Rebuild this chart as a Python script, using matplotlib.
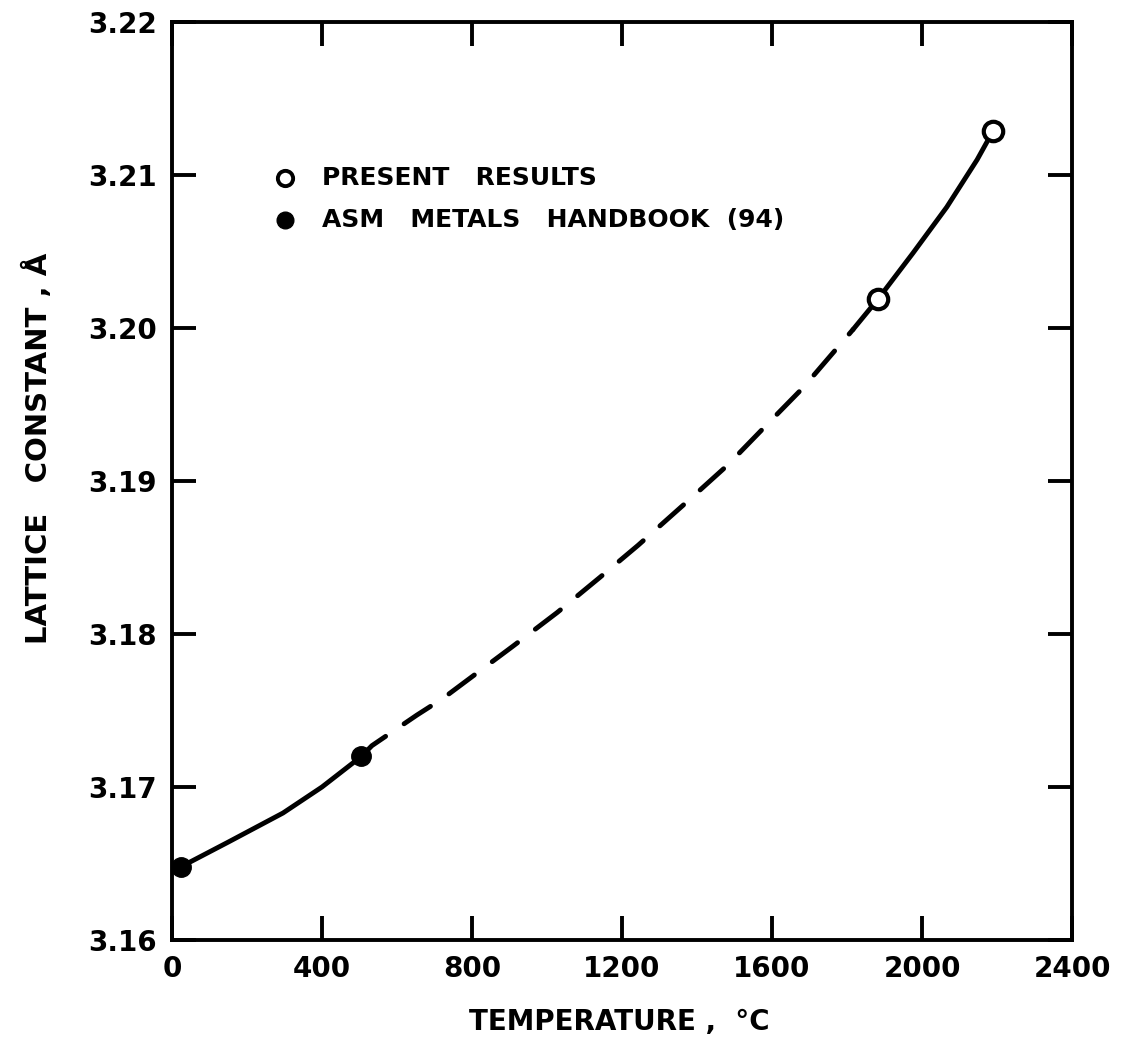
import matplotlib
matplotlib.use("Agg")
import matplotlib.pyplot as plt
from matplotlib.ticker import FixedLocator, FormatStrFormatter

# Measured lattice constants (Angstrom) versus temperature (deg C)
present_T = [1883, 2190]
present_a = [3.2019, 3.2129]
asm_T = [25, 505]
asm_a = [3.1648, 3.1720]

# Fitted curve, drawn in three pieces (solid / dashed / solid)
low_T = [25, 150, 296, 400, 505]
low_a = [3.1648, 3.1664, 3.1683, 3.1700, 3.1720]
mid_T = [505, 533, 653, 723, 816, 909, 1027, 1141, 1243, 1376, 1480, 1595, 1683, 1781, 1816]
mid_a = [3.1720, 3.1727, 3.1747, 3.1758, 3.1775, 3.1792, 3.1814, 3.1837, 3.1858, 3.1887,
         3.1910, 3.1939, 3.1961, 3.1989, 3.1999]
high_T = [1816, 1883, 1976, 2066, 2147, 2190]
high_a = [3.1999, 3.2019, 3.2049, 3.2079, 3.2110, 3.2129]

x_ticks = [0, 400, 800, 1200, 1600, 2000, 2400]
y_ticks = [3.16, 3.17, 3.18, 3.19, 3.20, 3.21, 3.22]

legend_labels = ["PRESENT   RESULTS", "ASM   METALS   HANDBOOK  (94)"]

plt.rcParams["font.family"] = ["DejaVu Sans"]
plt.rcParams["font.weight"] = "bold"

fig = plt.figure(figsize=(11.24, 10.48), dpi=100)
ax = fig.add_axes([172 / 1124, 108 / 1048, 900 / 1124, 918 / 1048])

lw = 3.5
ax.plot(low_T, low_a, color="black", lw=lw, solid_capstyle="round",
        solid_joinstyle="round", zorder=2)
ax.plot(mid_T, mid_a, color="black", lw=lw, dashes=(6.5, 4.6), dash_capstyle="round",
        zorder=2)
ax.plot(high_T, high_a, color="black", lw=lw, solid_capstyle="round",
        solid_joinstyle="round", zorder=2)

ax.plot(asm_T, asm_a, "o", color="black", ms=14, zorder=3)
ax.plot(present_T, present_a, "o", mfc="white", mec="black", mew=3.0, ms=14, zorder=3)

ax.set_xlim(0, 2400)
ax.set_ylim(3.16, 3.22)
ax.xaxis.set_major_locator(FixedLocator(x_ticks))
ax.yaxis.set_major_locator(FixedLocator(y_ticks))
ax.yaxis.set_major_formatter(FormatStrFormatter("%.2f"))
ax.tick_params(direction="in", length=17, width=2.8, top=True, right=True,
               labelsize=20, pad=11)
for lab in ax.get_xticklabels() + ax.get_yticklabels():
    lab.set_fontweight("bold")
for sp in ax.spines.values():
    sp.set_linewidth(2.8)

# Legend
ax.plot([0.1256], [0.830], "o", transform=ax.transAxes, mfc="white", mec="black",
        mew=2.8, ms=11, clip_on=False)
ax.plot([0.1256], [0.784], "o", transform=ax.transAxes, color="black", ms=12, clip_on=False)
ax.text(0.1667, 0.830, legend_labels[0], transform=ax.transAxes, va="center", ha="left",
        fontsize=18, fontweight="bold")
ax.text(0.1667, 0.784, legend_labels[1], transform=ax.transAxes, va="center", ha="left",
        fontsize=18, fontweight="bold")

# Axis titles
fig.text(619 / 1124, 1 - 1022 / 1048, "TEMPERATURE ,  °C", ha="center", va="center",
         fontsize=20, fontweight="bold")
fig.text(38 / 1124, 1 - 448 / 1048, "LATTICE   CONSTANT , Å", rotation=90,
         ha="center", va="center", fontsize=21, fontweight="bold")

fig.savefig("out.png", dpi=100, facecolor="white")
